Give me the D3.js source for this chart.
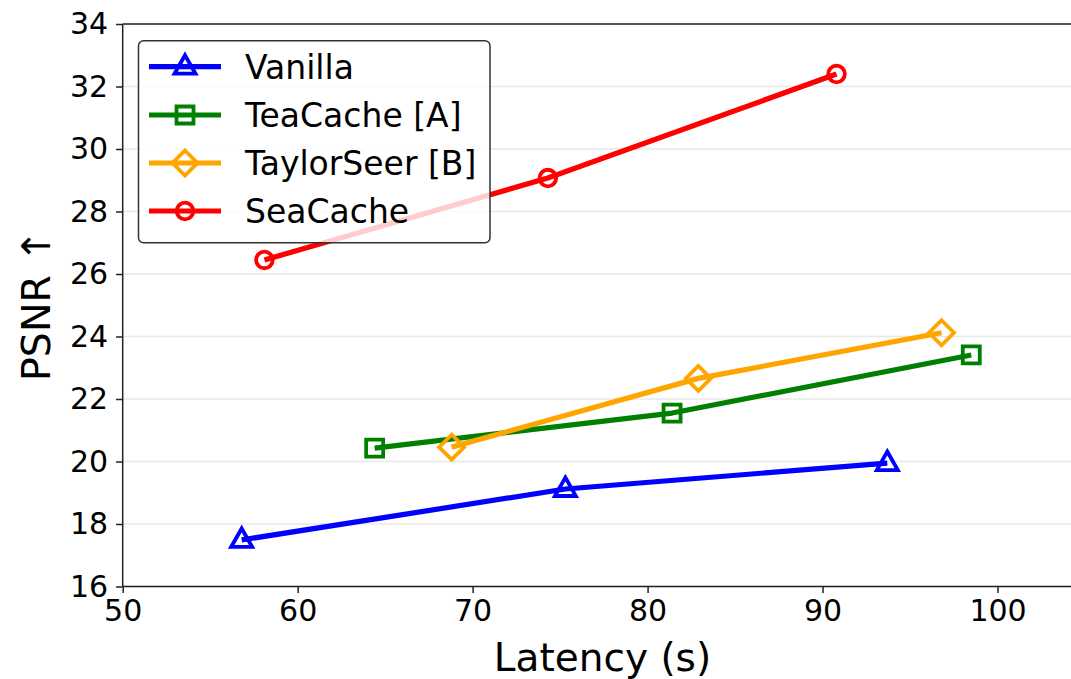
<!DOCTYPE html>
<html>
<head>
<meta charset="utf-8">
<script src="https://cdn.jsdelivr.net/npm/d3@7/dist/d3.min.js"></script>
<style>
html,body{margin:0;padding:0;background:#fff;}
svg{display:block;font-family:"DejaVu Sans",sans-serif;}
</style>
</head>
<body>
<svg id="chart" width="1071" height="679"></svg>
<script>
// ---- data ----
const seriesNames = ["Vanilla", "TeaCache [A]", "TaylorSeer [B]", "SeaCache"];
const vanillaX = [56.8, 75.3, 93.7];
const vanillaY = [17.49, 19.12, 19.95];
const teaCacheX = [64.4, 81.4, 98.5];
const teaCacheY = [20.43, 21.55, 23.41];
const taylorSeerX = [68.8, 82.9, 96.8];
const taylorSeerY = [20.46, 22.66, 24.12];
const seaCacheX = [58.1, 74.3, 90.8];
const seaCacheY = [26.45, 29.07, 32.4];
const xTicks = [50, 60, 70, 80, 90, 100];
const yTicks = [16, 18, 20, 22, 24, 26, 28, 30, 32, 34];
const xLabel = "Latency (s)";
const yLabel = "PSNR ↑";

(function () {
// ---- styles ----
const colors = ["#0000ff", "#008000", "#ffa500", "#ff0000"];
const markers = ["triangle", "square", "diamond", "circle"];
const allX = [vanillaX, teaCacheX, taylorSeerX, seaCacheX];
const allY = [vanillaY, teaCacheY, taylorSeerY, seaCacheY];
const series = seriesNames.map((n, i) => ({
  name: n, color: colors[i], marker: markers[i],
  pts: allX[i].map((x, j) => ({x: x, y: allY[i][j]}))
}));

const svg = d3.select("#chart");
const pLeft = 122.7, pRight = 1085, pTop = 24, pBottom = 586.5;
const x = d3.scaleLinear().domain([50, 105]).range([pLeft, pRight]);
const y = d3.scaleLinear().domain([16, 34]).range([pBottom, pTop]);

// grid
svg.append("g").selectAll("line").data(yTicks).join("line")
  .attr("x1", pLeft).attr("x2", pRight)
  .attr("y1", d => y(d)).attr("y2", d => y(d))
  .attr("stroke", "#e8e8e8").attr("stroke-width", 1.6);

function markerPath(type) {
  if (type === "triangle") return "M0,-11.5L10.5,7L-10.5,7Z";
  if (type === "square") return "M-8.5,-8.5H8.5V8.5H-8.5Z";
  if (type === "diamond") return "M0,-12.5L12.5,0L0,12.5L-12.5,0Z";
  return d3.arc()({innerRadius: 0, outerRadius: 8.3, startAngle: 0, endAngle: 2 * Math.PI});
}

const line = d3.line().x(d => x(d.x)).y(d => y(d.y));
const plot = svg.append("g");
series.forEach(s => {
  plot.append("path").datum(s.pts).attr("d", line)
    .attr("fill", "none").attr("stroke", s.color).attr("stroke-width", 5.2)
    .attr("stroke-linejoin", "round").attr("stroke-linecap", "butt");
  plot.append("g").selectAll("path").data(s.pts).join("path")
    .attr("d", markerPath(s.marker))
    .attr("transform", d => `translate(${x(d.x)},${y(d.y)})`)
    .attr("fill", "none").attr("stroke", s.color).attr("stroke-width", 3.8);
});

// axes
const xAxis = d3.axisBottom(x).tickValues(xTicks).tickSize(6.6).tickPadding(7).tickFormat(d3.format("d"));
const yAxis = d3.axisLeft(y).tickValues(yTicks).tickSize(6.6).tickPadding(8).tickFormat(d3.format("d"));
const gx = svg.append("g").attr("transform", `translate(0,${pBottom})`).call(xAxis);
const gy = svg.append("g").attr("transform", `translate(${pLeft},0)`).call(yAxis);
[gx, gy].forEach(g => {
  g.select(".domain").remove();
  g.selectAll(".tick line").attr("stroke", "#222").attr("stroke-width", 1.5);
  g.selectAll(".tick text").attr("fill", "#000").style("font-size", "30px")
    .style("font-family", "'DejaVu Sans', sans-serif");
});
// spines
svg.append("line").attr("x1", pLeft).attr("x2", pLeft).attr("y1", pTop).attr("y2", pBottom)
  .attr("stroke", "#222").attr("stroke-width", 1.5);
svg.append("line").attr("x1", pLeft).attr("x2", pRight).attr("y1", pBottom).attr("y2", pBottom)
  .attr("stroke", "#222").attr("stroke-width", 1.5);
svg.append("line").attr("x1", pLeft).attr("x2", pRight).attr("y1", pTop).attr("y2", pTop)
  .attr("stroke", "#222").attr("stroke-width", 1.5);

// axis labels
svg.append("text").attr("x", 602.5).attr("y", 671)
  .attr("text-anchor", "middle").style("font-size", "39px").attr("fill", "#000").text(xLabel);
svg.append("text").attr("transform", `translate(50,${(pTop + pBottom) / 2}) rotate(-90)`)
  .attr("text-anchor", "middle").style("font-size", "39.5px").attr("fill", "#000").text(yLabel);

// legend
const leg = svg.append("g");
leg.append("rect").attr("x", 138.5).attr("y", 40.7).attr("width", 351.5).attr("height", 202)
  .attr("rx", 5).attr("ry", 5)
  .attr("fill", "#fff").attr("fill-opacity", 0.8)
  .attr("stroke", "#333").attr("stroke-width", 1.5);
const rowY = [66.7, 115, 163, 211];
series.forEach((s, i) => {
  const g = leg.append("g").attr("transform", `translate(0,${rowY[i]})`);
  g.append("line").attr("x1", 149).attr("x2", 221).attr("y1", 0).attr("y2", 0)
    .attr("stroke", s.color).attr("stroke-width", 5.2);
  g.append("path").attr("d", markerPath(s.marker)).attr("transform", "translate(185,0)")
    .attr("fill", "none").attr("stroke", s.color).attr("stroke-width", 3.8);
  g.append("text").attr("x", 245).attr("y", 0).attr("dy", "0.36em")
    .style("font-size", "33px").attr("fill", "#000").text(s.name);
});
})();
</script>
</body>
</html>
